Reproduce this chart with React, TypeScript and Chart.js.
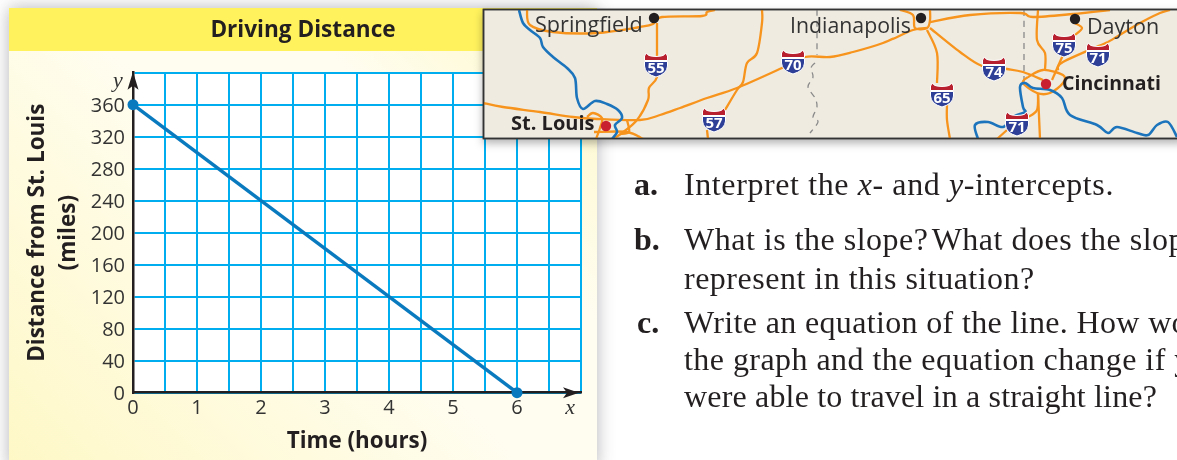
import React, { useEffect, useRef } from "react";
import { Chart, registerables } from "chart.js";

Chart.register(...registerables);

// ---- chart data ----
const hours = [0, 6];
const distances = [360, 0];
const xMax = 7;
const xStep = 0.5;
const yMax = 400;
const yStep = 40;
const chartTitle = "Driving Distance";
const xAxisTitle = "Time (hours)";
const yAxisTitle = ["Distance from St. Louis", "(miles)"];

// ---- colours ----
const GRID = "#00aeef";
const LINE = "#0a7abf";
const AXIS = "#231f20";
const TEXT = "#333333";
const ROAD = "#f7941d";
const RIVER = "#1c75bc";
const FONT = '"Open Sans", sans-serif';
const SERIF = '"Liberation Serif", serif';

// ---- decorative map ----
const roads: number[][][] = [
  [[527,10],[530,25],[553,32],[597,33],[640,27],[653,24],[662,17],[702,16],[707,12],[715,10]],
  [[657,23],[657,55],[657,77],[649,88],[648,100],[637,120],[622,133],[613,139]],
  [[483,103],[503,107],[540,112],[573,117],[597,119],[640,120],[660,115],[680,108],[707,98],[737,88],[782,68],[805,57],[830,57],[853,52],[883,43],[913,30],[927,28]],
  [[725,110],[737,90],[743,82],[747,63],[757,53],[762,23],[762,10]],
  [[707,130],[708,139]],
  [[587,117],[593,113],[602,118],[600,128],[596,139]],
  [[594,132],[627,132],[643,139]],
  [[627,120],[629,132],[620,134]],
  [[900,10],[913,15],[915,28],[927,28],[930,20],[930,10]],
  [[930,22],[970,15],[1020,13],[1033,17],[1073,14],[1110,10]],
  [[927,30],[937,53],[937,83]],
  [[947,105],[947,120],[950,139]],
  [[930,28],[960,52],[982,66],[1007,69],[1023,72],[1043,80]],
  [[1038,10],[1037,40],[1045,53],[1045,70]],
  [[1063,55],[1052,80]],
  [[1075,23],[1082,28],[1075,35]],
  [[1108,42],[1063,62],[1058,70]],
  [[1108,42],[1140,23],[1160,13],[1170,10]],
  [[1028,77],[1043,70],[1063,75],[1063,83],[1050,93],[1037,93],[1023,83],[1028,77]],
  [[1038,93],[1037,110],[1028,117]],
  [[1038,93],[1040,139]],
  [[1007,130],[997,139]],
];
const rivers: number[][][] = [
  [[519,10],[523,23],[530,30],[540,38],[543,47],[553,57],[567,68],[575,78],[577,98],[583,109],[595,101],[607,104],[618,110],[622,118],[615,125],[617,132],[612,139]],
  [[1177,137],[1168,122],[1157,125],[1148,135],[1137,133],[1117,127],[1108,133],[1097,125],[1070,115],[1062,98],[1050,90],[1033,88],[1025,83],[1020,87],[1023,107],[1025,112],[1013,117],[1003,127],[988,122],[975,125],[978,139]],
];
const borders: number[][][] = [
  [[817,10],[817,55]],
  [[815,63],[811,68],[813,77],[808,87],[815,98],[817,107],[813,117],[818,122],[810,133]],
  [[1024,10],[1024,82]],
];
const shields: [string, number, number][] = [
  ["55",656,53],["70",793,50],["57",714,108],["65",942,83],["74",994,57],["75",1064,33],["71",1098,43],["71",1017,112],
];
const cities: [number, number, string][] = [
  [654,18,"#231f20"],[921,18,"#231f20"],[1075,19,"#231f20"],[606,126,"#c8202f"],[1046,84,"#c8202f"],
];
const cityLabels: [string, number, number, boolean, number][] = [
  ["Springfield",535,32,false,21.6],["Indianapolis",790,33,false,21.3],["Dayton",1087,34,false,21.5],["St. Louis",511,130,true,20],["Cincinnati",1062,90,true,19.5],
];

// ---- question text ----
const questions: [string, number, number, React.ReactNode][] = [
  ["a.",634,185,<>Interpret the <i>x</i>- and <i>y</i>-intercepts.</>],
  ["b.",634,240,"What is the slope?\u200AWhat does the slope"],
  ["",634,279,"represent in this situation?"],
  ["c.",637,323,"Write an equation of the line. How would"],
  ["",637,360,"the graph and the equation change if you"],
  ["",637,397,"were able to travel in a straight line?"],
];
const questionSpacing = [0.6, 0.5, 0.5, 0.35, 0.45, 0.17];

// smooth curve through the traced map points
const smooth = (p: number[][]) => {
  let d = `M${p[0][0]} ${p[0][1]}`;
  for (let i = 0; i < p.length - 1; i++) {
    const a = p[Math.max(i - 1, 0)], b = p[i], c = p[i + 1], e = p[Math.min(i + 2, p.length - 1)];
    d += ` C${b[0] + (c[0] - a[0]) / 6} ${b[1] + (c[1] - a[1]) / 6} ${c[0] - (e[0] - b[0]) / 6} ${c[1] - (e[1] - b[1]) / 6} ${c[0]} ${c[1]}`;
  }
  return d;
};

function Shield({ label, x, y }: { label: string; x: number; y: number }) {
  const crown = `M${x-11.5} ${y+7.5} L${x-11.5} ${y+3} Q${x-10} ${y+1} ${x-9.5} ${y} Q${x-8} ${y+3} ${x-5} ${y+3} Q${x} ${y+4} ${x+5} ${y+3} Q${x+8} ${y+3} ${x+9.5} ${y} Q${x+10} ${y+1} ${x+11.5} ${y+3} L${x+11.5} ${y+7.5} Z`;
  const body = `M${x-11.5} ${y+8.5} L${x+11.5} ${y+8.5} L${x+11.5} ${y+13} Q${x+11} ${y+21} ${x} ${y+24} Q${x-11} ${y+21} ${x-11.5} ${y+13} Z`;
  return (
    <g>
      <path d={crown} fill="#b9202f" stroke="#fff" strokeWidth={1} />
      <path d={body} fill="#2e3f97" stroke="#fff" strokeWidth={1} />
      <text x={x} y={y+20} textAnchor="middle" fontFamily={FONT} fontWeight={700} fontSize={15} fill="#fff">{label}</text>
    </g>
  );
}

function MapInset() {
  return (
    <svg width={1177} height={460} style={{ position: "absolute", left: 0, top: 0, pointerEvents: "none" }}>
      <defs>
        <clipPath id="mapclip"><rect x={484} y={10} width={693} height={129} /></clipPath>
        <filter id="mapshadow" x="-5%" y="-10%" width="110%" height="130%">
          <feDropShadow dx={0} dy={4} stdDeviation={4} floodColor="#000" floodOpacity={0.3} />
        </filter>
      </defs>
      <rect x={483.5} y={9.5} width={700} height={129} fill="#efebe1" stroke="#333" strokeWidth={1.5} filter="url(#mapshadow)" />
      <g clipPath="url(#mapclip)">
        {borders.map((b, i) => <path key={i} d={smooth(b)} fill="none" stroke="#8a8a8a" strokeWidth={1.3} strokeDasharray="6 5" />)}
        {roads.map((r, i) => <path key={i} d={smooth(r)} fill="none" stroke={ROAD} strokeWidth={2.3} strokeLinejoin="round" />)}
        {rivers.map((r, i) => <path key={i} d={smooth(r)} fill="none" stroke={RIVER} strokeWidth={2.6} strokeLinejoin="round" />)}
        {shields.map(([l, x, y], i) => <Shield key={i} label={l} x={x} y={y} />)}
        {cities.map(([x, y, c], i) => <circle key={i} cx={x} cy={y} r={5.2} fill={c} />)}
        {cityLabels.map(([t, x, y, b, s], i) => (
          <text key={i} x={x} y={y} fontFamily={FONT} fontSize={s} fontWeight={b ? 700 : 400} fill={b ? "#231f20" : "#333"}>{t}</text>
        ))}
      </g>
      <rect x={483.5} y={9.5} width={700} height={129} fill="none" stroke="#333" strokeWidth={1.5} />
    </svg>
  );
}

const decorPlugin = {
  id: "decor",
  beforeDraw(chart: any) {
    const { ctx, chartArea: a, scales } = chart;
    ctx.save();
    ctx.fillStyle = "#ffffff";
    ctx.fillRect(a.left, a.top, a.right - a.left, a.bottom - a.top);
    ctx.restore();
    // nudge tick labels down onto the reference's baseline
    const nudge = (scale: any, dy: number) =>
      scale.getLabelItems().forEach((it: any) => {
        if (!it.__moved) {
          it.options.translation = [it.options.translation[0], it.options.translation[1] + dy];
          it.__moved = true;
        }
      });
    nudge(scales.y, 1.5);
    nudge(scales.x, 1);
  },
  afterDatasetsDraw(chart: any) {
    const { ctx, chartArea: a, scales } = chart;
    ctx.save();
    ctx.fillStyle = AXIS;
    const ax = scales.x.getPixelForValue(0);
    // y arrow
    ctx.beginPath();
    ctx.moveTo(ax, a.top - 1);
    ctx.lineTo(ax + 5.5, a.top + 17);
    ctx.lineTo(ax, a.top + 13);
    ctx.lineTo(ax - 5.5, a.top + 17);
    ctx.closePath();
    ctx.fill();
    // x arrow
    const ay = scales.y.getPixelForValue(0);
    ctx.beginPath();
    ctx.moveTo(a.right - 2, ay);
    ctx.lineTo(a.right - 18, ay - 5.5);
    ctx.lineTo(a.right - 14, ay);
    ctx.lineTo(a.right - 18, ay + 5.5);
    ctx.closePath();
    ctx.fill();
    // axis letters
    ctx.fillStyle = TEXT;
    ctx.font = `italic 22px ${SERIF}`;
    ctx.textAlign = "center";
    ctx.textBaseline = "middle";
    ctx.fillText("x", scales.x.getPixelForValue(6.83), ay + 16);
    ctx.fillText("y", ax - 15, a.top + 8);
    ctx.restore();
  },
};

export default function App() {
  const ref = useRef<HTMLCanvasElement>(null);
  useEffect(() => {
    if (!ref.current) return;
    const chart = new Chart(ref.current, {
      type: "line",
      data: {
        datasets: [
          {
            data: hours.map((h, i) => ({ x: h, y: distances[i] })),
            borderColor: LINE,
            backgroundColor: LINE,
            borderWidth: 3.5,
            pointRadius: 5.5,
            pointBackgroundColor: LINE,
            pointBorderWidth: 0,
            clip: false,
          },
        ],
      } as any,
      options: {
        responsive: false,
        animation: false,
        layout: { padding: { left: 25, right: 25, top: 0, bottom: 0 } },
        plugins: {
          legend: { display: false },
          tooltip: { enabled: false },
          title: {
            display: true,
            text: chartTitle,
            color: AXIS,
            font: { family: FONT, size: 22.6, weight: "bold", lineHeight: 1.2 },
            padding: { top: 17, bottom: 28.6 },
          },
        },
        scales: {
          x: {
            type: "linear",
            min: 0,
            max: xMax,
            afterFit: (s: any) => { s.height = 67.3; },
            border: { display: true, color: AXIS, width: 2.5 },
            grid: { color: GRID, lineWidth: 2, drawTicks: false },
            ticks: {
              stepSize: xStep,
              autoSkip: false,
              maxRotation: 0,
              color: TEXT,
              padding: 3,
              font: { family: FONT, size: 20 },
              callback: (v: any) => (Number.isInteger(v) && v < xMax ? String(v) : ""),
            },
            title: {
              display: true,
              text: xAxisTitle,
              color: AXIS,
              font: { family: FONT, size: 22.4, weight: "bold", lineHeight: 1.2 },
              padding: { top: 0, bottom: 5 },
            },
          },
          y: {
            type: "linear",
            min: 0,
            max: yMax,
            afterFit: (s: any) => { s.width = 108; },
            border: { display: true, color: AXIS, width: 2.5 },
            grid: { color: GRID, lineWidth: 2, drawTicks: false },
            ticks: {
              stepSize: yStep,
              autoSkip: false,
              color: TEXT,
              padding: 8,
              font: { family: FONT, size: 20 },
              callback: (v: any) => (v < yMax ? String(v) : ""),
            },
            title: {
              display: true,
              text: yAxisTitle,
              color: AXIS,
              font: { family: FONT, size: 22.5, weight: "bold", lineHeight: 1.38 },
              padding: { top: -2.5, bottom: 0 },
            },
          },
        },
      } as any,
      plugins: [decorPlugin],
    });
    return () => chart.destroy();
  }, []);

  const para = { position: "absolute" as const, lineHeight: "40px", fontFamily: SERIF, fontSize: 32, color: "#231f20", whiteSpace: "nowrap" as const };
  return (
    <div style={{ position: "fixed", left: 0, top: 0, width: 1177, height: 460, overflow: "hidden", background: "#fff" }}>
      <div
        style={{
          position: "absolute", left: 9, top: 8, width: 588, height: 460,
          background: "linear-gradient(45deg,#fef8c6 0%,#fffdf0 50%,#fffdf0 70%,#fdf8c4 100%)",
          boxShadow: "0 0 16px rgba(60,60,70,0.38)",
        }}
      >
        <div style={{ height: 43, background: "#fff25d" }} />
      </div>
      <canvas ref={ref} width={606} height={460} style={{ position: "absolute", left: 0, top: 0, display: "block" }} />
      <MapInset />
      {questions.map(([tag, x, cy, body], i) => (
        <React.Fragment key={i}>
          {tag && <div style={{ ...para, left: x, top: cy - 21, fontWeight: 700 }}>{tag}</div>}
          <div style={{ ...para, left: 684, top: cy - 21, letterSpacing: questionSpacing[i] }}>{body}</div>
        </React.Fragment>
      ))}
    </div>
  );
}
